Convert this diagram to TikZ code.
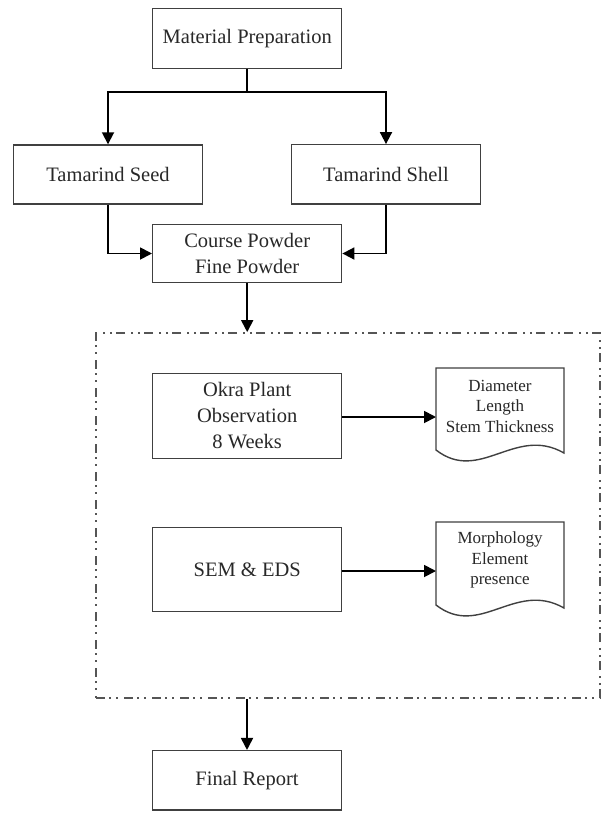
\documentclass[tikz,border=0pt]{standalone}
\usepackage{fontspec}
\setmainfont{Liberation Serif}
\usetikzlibrary{arrows.meta}
\definecolor{boxgray}{RGB}{64,64,64}
\definecolor{txtgray}{RGB}{40,40,40}
\definecolor{dashgray}{RGB}{85,85,85}
\tikzset{
  box/.style={draw=boxgray, line width=1.4pt, minimum width=189pt, inner sep=0pt,
    align=center, text=txtgray, font=\fontsize{20.5}{26}\selectfont},
  doctext/.style={align=center, inner sep=0pt, text=txtgray, font=\fontsize{17}{20.5}\selectfont},
  docshape/.style={draw=boxgray, line width=1.4pt},
  conn/.style={draw=black, line width=1.8pt},
  arr/.style={conn, -{Triangle[length=12pt,width=12pt]}},
  dashbox/.style={draw=dashgray, line width=1.8pt,
    dash pattern=on 9pt off 4pt on 2pt off 5pt on 2pt off 6pt, inner sep=0pt}
}
\begin{document}
\begin{tikzpicture}[x=1pt,y=-1pt]
\useasboundingbox[fill=white] (0,0) rectangle (605,821);

\node[box, minimum height=60pt] (mp) at (247.2,38.3) {Material Preparation};
\node[box, minimum height=59pt] (seed) at (108,174.5) {Tamarind Seed};
\node[box, minimum height=59pt] (shell) at (386,174.3) {Tamarind Shell};
\node[box, minimum height=58.4pt] (course) at (247.2,253.5) {Course Powder\\Fine Powder};
\node[dashbox, draw, minimum width=504pt, minimum height=365pt] (dbox) at (348,515.5) {};
\node[box, minimum height=85pt] (okra) at (247.2,415.8) {Okra Plant\\Observation\\8 Weeks};
\node[box, minimum height=84pt] (sem) at (247.2,569.7) {SEM \& EDS};
\node[box, minimum height=59.3pt] (final) at (247,780.3) {Final Report};

% document shapes
\draw[docshape] (436,368) -- (564,368) -- (564,453)
  .. controls (515,425) and (480,484) .. (436,450) -- cycle;
\node[doctext] (doc1) at (500,406) {Diameter\\Length\\Stem Thickness};
\coordinate (d1w) at (436,417);

\draw[docshape] (436,522) -- (564,522) -- (564,608)
  .. controls (515,580) and (480,639) .. (436,605) -- cycle;
\node[doctext] (doc2) at (500,560) {Morphology\\Element\\presence};
\coordinate (d2w) at (436,571);

% connectors
\coordinate (split) at (247.2,91.7);
\draw[conn] (mp.south) -- (split);
\draw[arr] (split) -| (seed.north);
\draw[arr] (split) -| (shell.north);
\draw[arr] (seed.south) |- (course.west);
\draw[arr] (shell.south) |- (course.east);
\draw[arr] (course.south) -- (course.south |- dbox.north);
\draw[arr] (okra.east |- d1w) -- (d1w);
\draw[arr] (sem.east |- d2w) -- (d2w);
\draw[arr] (final.north |- dbox.south) -- (final.north);
\end{tikzpicture}
\end{document}
